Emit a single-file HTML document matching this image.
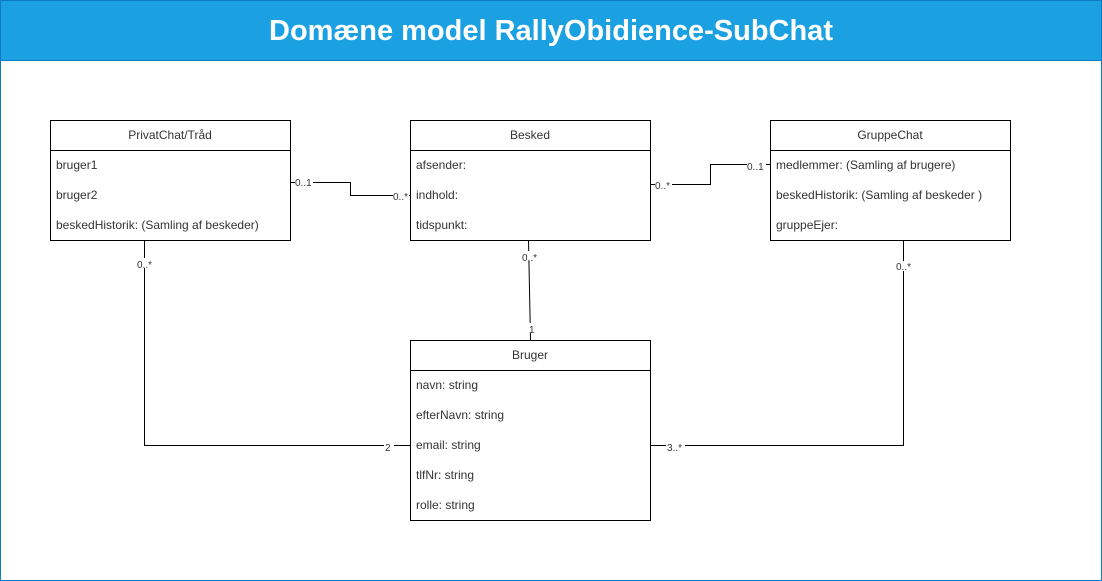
<!DOCTYPE html>
<html><head><meta charset="utf-8"><style>
html,body{margin:0;padding:0;background:#fff;}
svg{display:block;}
text{font-family:"Liberation Sans",Arial,sans-serif;}
.t{font-size:12px;fill:#333;}
.l{font-size:10px;fill:#333;}
</style></head><body>
<svg width="1102" height="581" viewBox="0 0 1102 581" xmlns="http://www.w3.org/2000/svg">
<rect x="0.5" y="0.5" width="1101" height="580" fill="#fff" stroke="#0f7ac2"/>
<rect x="0.5" y="0.5" width="1101" height="60" fill="#1ba1e2" stroke="#0f7ac2"/>
<text x="551" y="40" text-anchor="middle" font-size="29" font-weight="bold" fill="#fff">Domæne model RallyObidience-SubChat</text>

<g fill="none" stroke="#000" stroke-width="1">
<path d="M290.5 182.5H350.5V195.5H410"/>
<path d="M650.5 184.5H710.5V164.5H770"/>
<path d="M528.5 240L530.5 340"/>
<path d="M144.5 240V445.5H410"/>
<path d="M903.5 240V445.5H650"/>
</g>
<g fill="#fff">
<rect x="295" y="177" width="18" height="10"/>
<rect x="393" y="190" width="16" height="10"/>
<rect x="655" y="179" width="17" height="10"/>
<rect x="747" y="159" width="19" height="10"/>
<rect x="521" y="251" width="20" height="10"/>
<rect x="525" y="323" width="10" height="10"/>
<rect x="137" y="258" width="18" height="10"/>
<rect x="384" y="441" width="10" height="10"/>
<rect x="666" y="441" width="19" height="10"/>
<rect x="895" y="261" width="20" height="10"/>
</g>
<g class="l">
<text x="295" y="186">0..1</text>
<text x="393" y="200">0..*</text>
<text x="655" y="189">0..*</text>
<text x="747" y="170">0..1</text>
<text x="522" y="261">0..*</text>
<text x="529" y="333">1</text>
<text x="137" y="268">0..*</text>
<text x="385" y="451">2</text>
<text x="667" y="451">3..*</text>
<text x="896" y="270">0..*</text>
</g>

<g fill="#fff" stroke="#000" stroke-width="1">
<rect x="50.5" y="120.5" width="240" height="120"/>
<line x1="50.5" y1="150.5" x2="290.5" y2="150.5"/>
<rect x="410.5" y="120.5" width="240" height="120"/>
<line x1="410.5" y1="150.5" x2="650.5" y2="150.5"/>
<rect x="770.5" y="120.5" width="240" height="120"/>
<line x1="770.5" y1="150.5" x2="1010.5" y2="150.5"/>
<rect x="410.5" y="340.5" width="240" height="180"/>
<line x1="410.5" y1="370.5" x2="650.5" y2="370.5"/>
</g>
<g class="t">
<text x="170" y="139" text-anchor="middle">PrivatChat/Tråd</text>
<text x="56" y="169">bruger1</text>
<text x="56" y="199">bruger2</text>
<text x="56" y="229">beskedHistorik: (Samling af beskeder)</text>

<text x="530" y="139" text-anchor="middle">Besked</text>
<text x="416" y="169">afsender:</text>
<text x="416" y="199">indhold:</text>
<text x="416" y="229">tidspunkt:</text>

<text x="890" y="139" text-anchor="middle">GruppeChat</text>
<text x="776" y="169">medlemmer: (Samling af brugere)</text>
<text x="776" y="199">beskedHistorik: (Samling af beskeder )</text>
<text x="776" y="229">gruppeEjer:</text>

<text x="530" y="359" text-anchor="middle">Bruger</text>
<text x="416" y="389">navn: string</text>
<text x="416" y="419">efterNavn: string</text>
<text x="416" y="449">email: string</text>
<text x="416" y="479">tlfNr: string</text>
<text x="416" y="509">rolle: string</text>
</g>
</svg>
</body></html>
